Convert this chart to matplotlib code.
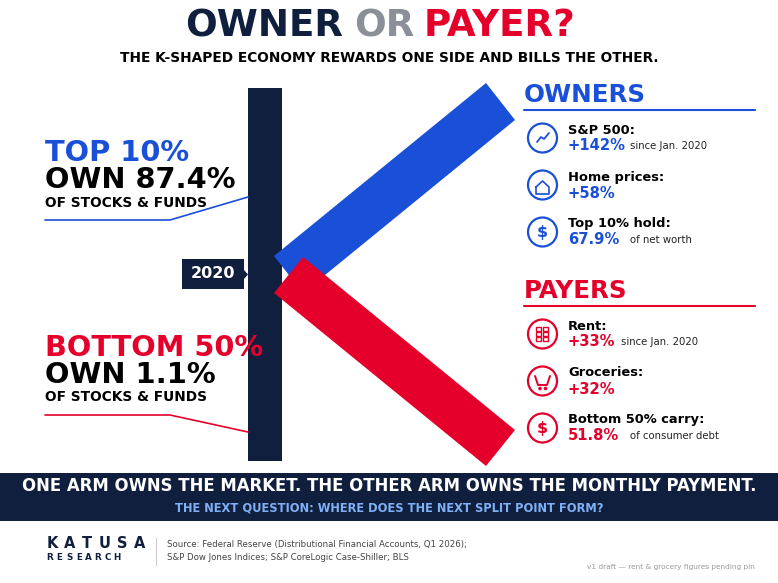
import matplotlib
matplotlib.use("Agg")
import matplotlib.pyplot as plt
from matplotlib.patches import Polygon, Rectangle, Circle

NAVY = "#0f1f3d"
BLUE = "#1a4fd8"
RED = "#e4002b"
GREY = "#8a8f98"

owner_labels = ["S&P 500:", "Home prices:", "Top 10% hold:"]
owner_values = ["+142%", "+58%", "67.9%"]
owner_notes = ["since Jan. 2020", "", "of net worth"]
owner_note_x = [630, 0, 630]

payer_labels = ["Rent:", "Groceries:", "Bottom 50% carry:"]
payer_values = ["+33%", "+32%", "51.8%"]
payer_notes = ["since Jan. 2020", "", "of consumer debt"]
payer_note_x = [621, 0, 630]

fig = plt.figure(figsize=(7.78, 5.83), dpi=100)
ax = fig.add_axes([0, 0, 1, 1])
ax.set_xlim(0, 778)
ax.set_ylim(583, 0)
ax.axis("off")


def txt(x, y, s, size, color="black", weight="bold", ha="left", **kw):
    return ax.text(x, y, s, fontsize=size, color=color, fontweight=weight,
                   ha=ha, va="center", **kw)


def line(xs, ys, color, lw=1.5, **kw):
    ax.plot(xs, ys, color=color, lw=lw, solid_capstyle="round", **kw)


# title
txt(185, 26, "OWNER", 26.8, NAVY)
txt(354, 26, "OR", 26.8, GREY)
txt(424, 26, "PAYER?", 26.8, RED)
txt(389, 58, "THE K-SHAPED ECONOMY REWARDS ONE SIDE AND BILLS THE OTHER.", 9.87, "black", ha="center")

# the K
ax.add_patch(Rectangle((248, 88), 34, 373, color=NAVY, lw=0))
ax.add_patch(Polygon([(274, 256), (486, 83), (515, 120), (303, 293)], color=BLUE, lw=0, zorder=2))
ax.add_patch(Polygon([(303, 257), (515, 430), (486, 466), (274, 293)], color=RED, lw=0, zorder=3))

# 2020 tag
ax.add_patch(Polygon([(182, 259), (244, 259), (244, 270), (248, 274.5), (244, 279), (244, 289), (182, 289)],
                     color=NAVY, lw=0, zorder=4))
txt(213, 274, "2020", 11.5, "white", ha="center", zorder=5)

# left labels
txt(45, 153, "TOP 10%", 20.8, BLUE)
txt(45, 180, "OWN 87.4%", 20.8, "black")
txt(45, 203, "OF STOCKS & FUNDS", 9.9, "black")
line([45, 170, 248], [220, 220, 197], BLUE, 1.2)

txt(45, 348, "BOTTOM 50%", 20.8, RED)
txt(45, 375, "OWN 1.1%", 20.8, "black")
txt(45, 397, "OF STOCKS & FUNDS", 9.9, "black")
line([45, 170, 248], [415, 415, 432], RED, 1.2)

# section heads
txt(524, 95, "OWNERS", 17.7, BLUE)
line([524, 755], [110, 110], BLUE, 1.5)
txt(524, 291, "PAYERS", 17.7, RED)
line([524, 755], [306, 306], RED, 1.5)


def icon_base(cy, color):
    ax.add_patch(Circle((542.5, cy), 14.5, fill=False, ec=color, lw=1.6))


def icon_trend(cy, c):
    icon_base(cy, c)
    line([537, 541, 544, 549], [cy + 4, cy - 1, cy + 1, cy - 5], c, 1.3)


def icon_home(cy, c):
    icon_base(cy, c)
    line([536, 542.5, 549, 549, 536, 536], [cy + 2, cy - 4, cy + 2, cy + 9, cy + 9, cy + 2], c, 1.2)


def icon_dollar(cy, c):
    icon_base(cy, c)
    txt(542.5, cy, "$", 11.5, c, ha="center")


def icon_grid(cy, c):
    icon_base(cy, c)
    for row in range(3):
        for col in range(2):
            ax.add_patch(Rectangle((536.5 + col * 6.5, cy - 7.5 + row * 5.2), 5, 4, fill=False, ec=c, lw=1))


def icon_cart(cy, c):
    icon_base(cy, c)
    line([535, 538, 547, 550], [cy - 5, cy + 4, cy + 4, cy - 5], c, 1.4)
    ax.add_patch(Circle((540, cy + 7.5), 1.8, color=c, lw=0))
    ax.add_patch(Circle((545.5, cy + 7.5), 1.8, color=c, lw=0))


def rows(ys, labels, values, notes, note_x, icons, color):
    for y, lab, val, note, nx, icon in zip(ys, labels, values, notes, note_x, icons):
        icon(y, color)
        txt(568, y - 8, lab, 9.35, "black")
        txt(568, y + 8, val, 10.6, color)
        if note:
            txt(nx, y + 8, note, 7.25, "#222222", weight="normal")


rows([138, 185, 232], owner_labels, owner_values, owner_notes, owner_note_x,
     [icon_trend, icon_home, icon_dollar], BLUE)
rows([334, 381, 428], payer_labels, payer_values, payer_notes, payer_note_x,
     [icon_grid, icon_cart, icon_dollar], RED)

# banner
ax.add_patch(Rectangle((0, 473), 778, 48, color=NAVY, lw=0))
txt(389, 486, "ONE ARM OWNS THE MARKET. THE OTHER ARM OWNS THE MONTHLY PAYMENT.", 11.93, "white", ha="center")
txt(389, 508, "THE NEXT QUESTION: WHERE DOES THE NEXT SPLIT POINT FORM?", 8.3, "#7fb0f5", ha="center")

# footer, letters spaced by hand
for i, ch in enumerate("KATUSA"):
    txt(52 + i * 17.6, 543, ch, 10.5, NAVY, ha="center")
for i, ch in enumerate("RESEARCH"):
    txt(50 + i * 9.6, 558, ch, 6.3, NAVY, ha="center")
line([156, 156], [538, 565], "#cccccc", 0.8)
txt(167, 545, "Source: Federal Reserve (Distributional Financial Accounts, Q1 2026);", 6.2, "#444444", weight="normal")
txt(167, 557, "S&P Dow Jones Indices; S&P CoreLogic Case-Shiller; BLS", 6.2, "#444444", weight="normal")
txt(755, 567, "v1 draft — rent & grocery figures pending pin", 5.3, "#9a9a9a", weight="normal", ha="right")

fig.savefig("out.png", dpi=100)
